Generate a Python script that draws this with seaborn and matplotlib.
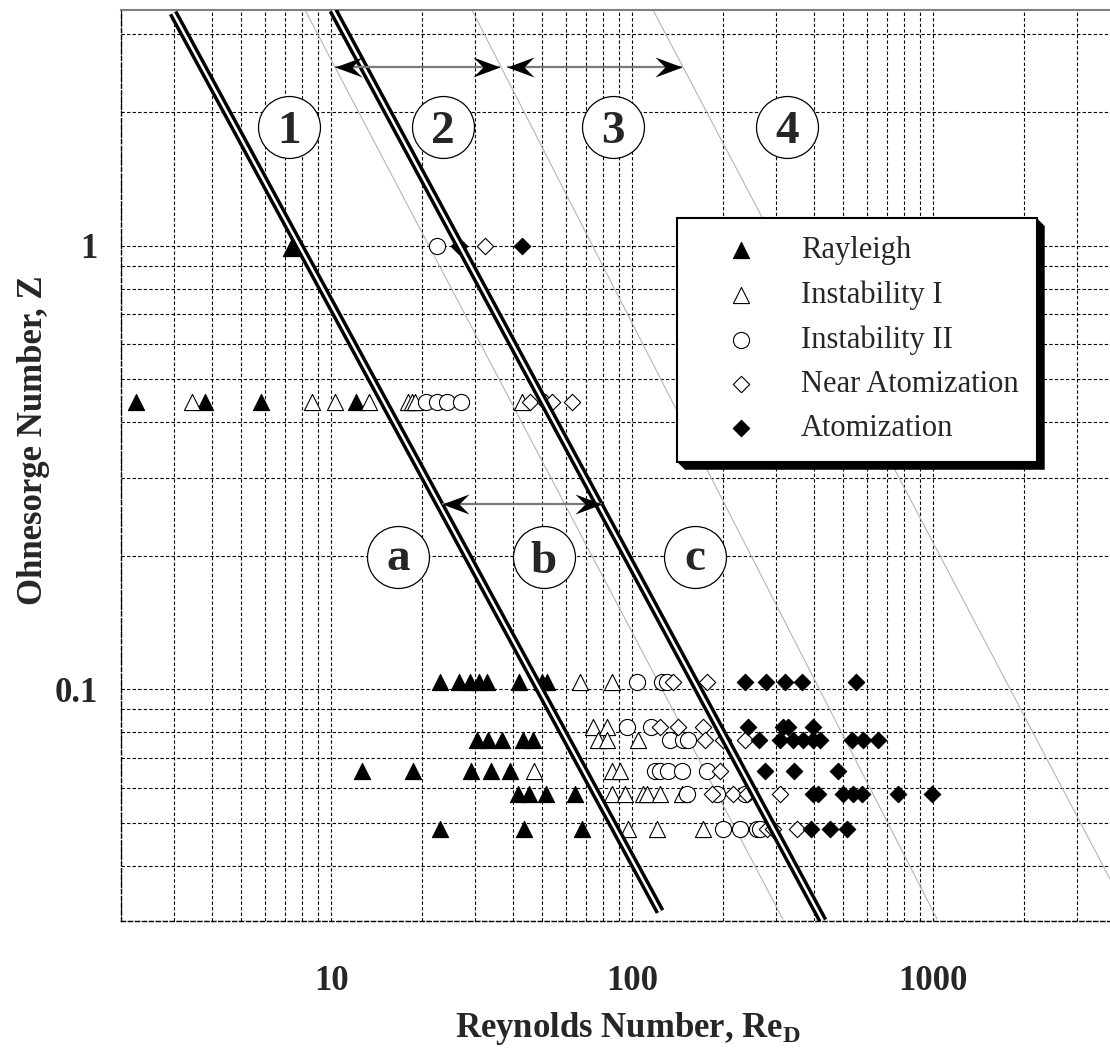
import matplotlib
matplotlib.use("Agg")
import matplotlib.pyplot as plt
import seaborn as sns
import numpy as np
from matplotlib.path import Path
from matplotlib.patches import Polygon
from matplotlib.transforms import IdentityTransform
from matplotlib.ticker import FixedLocator, NullFormatter, LogLocator

# ---------------- data ----------------
rayleigh_re = [7.34, 2.24, 3.80, 5.82, 12.04,
               22.9, 26.5, 28.9, 31.0, 32.8, 42.1, 50.2, 51.9,
               30.4, 33.2, 36.8, 43.4, 46.9,
               12.6, 18.7, 29.0, 33.9, 39.2,
               41.8, 45.3, 51.5, 64.5,
               22.9, 43.6, 68.2]
rayleigh_z = [0.99] + [0.445]*4 + [0.104]*8 + [0.0768]*5 + [0.0655]*5 + [0.058]*4 + [0.0484]*3

inst1_re = [3.45, 8.60, 10.28, 13.37, 18.0, 18.5, 18.96, 43.0,
            67.0, 85.8,
            74.1, 82.5,
            77.0, 82.1, 104.6,
            47.1, 85.8, 90.9,
            85.4, 94.5, 108.7, 111.6, 123.6, 145.8,
            96.9, 120.5, 172.1]
inst1_z = [0.445]*8 + [0.104]*2 + [0.082]*2 + [0.0768]*3 + [0.0655]*3 + [0.058]*6 + [0.0484]*3

inst2_re = [22.4,
            20.7, 22.4, 24.2, 27.0,
            103.4, 125.1, 130.6,
            95.7, 115.1,
            133.4, 147.7, 153.4,
            118.9, 123.6, 131.6, 145.8, 176.5,
            151.5, 190.6, 236.7,
            200.5, 227.9, 258.9, 265.5]
inst2_z = [1.0] + [0.445]*4 + [0.104]*3 + [0.082]*2 + [0.0768]*3 + [0.0655]*5 + [0.058]*3 + [0.0484]*4

near_re = [32.4,
           45.7, 51.2, 54.0, 63.0,
           136.7, 176.5,
           123.6, 142.1, 172.1,
           174.3, 200.5, 236.7,
           195.5,
           183.4, 216.4, 239.8, 309.4,
           279.4, 293.9, 351.5]
near_z = [1.0] + [0.445]*4 + [0.104]*2 + [0.082]*3 + [0.0768]*3 + [0.0655] + [0.058]*4 + [0.0484]*3

atom_re = [26.5, 43.0,
           236.7, 277.4, 321.4, 366.8, 553.0,
           242.7, 317.2, 329.6, 399.0,
           264.1, 309.4, 342.5, 369.7, 399.0, 420.2, 535.6, 585.0, 656.3,
           275.8, 345.2, 480.9,
           399.0, 414.6, 502.1, 542.0, 578.0, 764.6, 987.0,
           393.6, 453.4, 518.3]
atom_z = [1.0]*2 + [0.104]*5 + [0.082]*4 + [0.0768]*9 + [0.0655]*3 + [0.058]*7 + [0.0484]*3

series_names = ["Rayleigh", "Instability I", "Instability II", "Near Atomization", "Atomization"]

# regime boundary lines (double lines) and thin guide lines
bound_re = [[2.98, 123.6], [10.12, 429.7]]
bound_z = [[3.35, 0.0315], [3.40, 0.030]]
guide_re = [[8.17, 316.2], [29.3, 1028.0], [117.1, 3862.0]]
guide_z = [[3.40, 0.0303], [3.40, 0.0303], [3.40, 0.0373]]

# double-headed arrows
arrow_re = [[10.28, 36.3], [38.3, 146.0], [23.3, 79.3]]
arrow_z = [2.53, 2.53, 0.262]

# circled region labels
region_labels = ["1", "2", "3", "4", "a", "b", "c"]
region_re = [7.23, 23.5, 86.2, 326.4, 16.65, 50.8, 161.4]
region_z = [1.854, 1.854, 1.854, 1.854, 0.199, 0.199, 0.199]

x_ticks = [10, 100, 1000]
x_tick_labels = ["10", "100", "1000"]
y_ticks = [0.1, 1]
y_tick_labels = ["0.1", "1"]

# ---------------- style ----------------
sns.set_theme(style="white")
plt.rcParams['font.family'] = ['Liberation Serif', 'DejaVu Serif']
plt.rcParams['mathtext.fontset'] = 'custom'
plt.rcParams['mathtext.rm'] = 'Liberation Serif'
plt.rcParams['mathtext.bf'] = 'Liberation Serif:bold'
plt.rcParams['mathtext.it'] = 'Liberation Serif:italic'

W, H = 1110, 1057
fig = plt.figure(figsize=(W/100, H/100), dpi=100)
fig.patch.set_facecolor('white')
L, R, B, T = 121, 1114.6, 921, 10
ax = fig.add_axes([L/W, 1-B/H, (R-L)/W, (B-T)/H])
ax.set_facecolor('white')
ax.set_xscale('log')
ax.set_yscale('log')
ax.set_xlim(2, 4000)
ax.set_ylim(0.03, 3.4)

# grid
ax.set_axisbelow(True)
ax.grid(True, which='both', color='black', linestyle=(0, (3, 2)), linewidth=0.8)

# ticks
ax.xaxis.set_major_locator(FixedLocator(x_ticks))
ax.yaxis.set_major_locator(FixedLocator(y_ticks))
ax.xaxis.set_minor_locator(LogLocator(base=10, subs=np.arange(2, 10) * 1.0, numticks=30))
ax.yaxis.set_minor_locator(LogLocator(base=10, subs=np.arange(2, 10) * 1.0, numticks=30))
ax.xaxis.set_minor_formatter(NullFormatter())
ax.yaxis.set_minor_formatter(NullFormatter())
ax.set_xticklabels(x_tick_labels, fontsize=25, fontweight='bold')
ax.set_yticklabels(y_tick_labels, fontsize=25, fontweight='bold')
ax.tick_params(axis='both', which='major', direction='in', length=12, width=1, color='black')
ax.tick_params(axis='both', which='minor', direction='in', length=6, width=1, color='black')
ax.tick_params(axis='x', which='major', pad=32)
ax.tick_params(axis='y', which='major', pad=17)

for s in ['left', 'bottom']:
    ax.spines[s].set_linestyle((0, (3, 2)))
    ax.spines[s].set_color('black')
    ax.spines[s].set_linewidth(1.0)
ax.spines['top'].set_color('#808080')
ax.spines['top'].set_linewidth(1.5)
ax.spines['right'].set_color('#808080')

# thin guide lines
for xs, zs in zip(guide_re, guide_z):
    ax.plot(xs, zs, color='#b5b5b5', lw=0.8, zorder=2)

# scatter data
specs = [
    (series_names[0], rayleigh_re, rayleigh_z, '^', 'black', 135),
    (series_names[1], inst1_re, inst1_z, '^', 'white', 135),
    (series_names[2], inst2_re, inst2_z, 'o', 'white', 135),
    (series_names[3], near_re, near_z, 'D', 'white', 70),
    (series_names[4], atom_re, atom_z, 'D', 'black', 70),
]
for name, xs, zs, mk, fc, sz in specs:
    sns.scatterplot(x=xs, y=zs, marker=mk, s=sz, color=fc, edgecolor='black',
                    linewidth=0.8, label=name, ax=ax, zorder=2.5)

# double boundary lines
for xs, zs in zip(bound_re, bound_z):
    ax.plot(xs, zs, color='black', lw=6.8, solid_capstyle='butt', zorder=3)
    ax.plot(xs, zs, color='white', lw=1.8, solid_capstyle='butt', zorder=3.1)

# arrows
hv = [(0, 0), (-27, 10), (-17, 0), (-27, -10), (0, 0)]
codes = [Path.MOVETO, Path.LINETO, Path.LINETO, Path.LINETO, Path.CLOSEPOLY]
head_r = Path(hv, codes)
head_l = Path([(-a, b) for a, b in hv], codes)
for (xa, xb), ya in zip(arrow_re, arrow_z):
    ax.plot([xa, xb], [ya, ya], color='#7a7a7a', lw=1.6, zorder=4, solid_capstyle='butt')
    ax.plot([xb], [ya], marker=head_r, markersize=39, color='black', mew=0, lw=0, zorder=4.5)
    ax.plot([xa], [ya], marker=head_l, markersize=39, color='black', mew=0, lw=0, zorder=4.5)

# circled labels
for lab, x, y in zip(region_labels, region_re, region_z):
    ax.scatter([x], [y], s=1990, marker='o', facecolor='white', edgecolor='black',
               linewidth=0.9, zorder=6)
    dy = -9.5 if lab in ('a', 'c') else -11.5
    ax.annotate(lab, (x, y), xytext=(0, dy), textcoords='offset points',
                ha='center', va='baseline', fontsize=34, fontweight='bold', zorder=7)

# axis labels
ax.set_xlabel(r'Reynolds Number, Re$_{\mathbf{D}}$', fontsize=25, fontweight='bold')
ax.xaxis.set_label_coords((628 - L) / (R - L), -(1010 - B) / (B - T))
ax.set_ylabel('Ohnesorge Number, Z', fontsize=25, fontweight='bold')
ax.yaxis.set_label_coords((50 - L) / (R - L), (B - 440) / (B - T))

# legend
leg = ax.legend(loc='upper left', bbox_to_anchor=(677 / W, 1 - 218 / H),
                bbox_transform=fig.transFigure, borderaxespad=0, frameon=True,
                fancybox=False, shadow=False, prop={'family': 'Liberation Serif', 'size': 22},
                borderpad=0.6, labelspacing=0.5, handlelength=3.0, handletextpad=0.45,
                scatterpoints=1, edgecolor='black', framealpha=1)
leg.get_frame().set_linewidth(1.5)
leg.set_zorder(10)

fig.canvas.draw()
bb = leg.get_frame().get_window_extent()
d = 8
shadow = Polygon([(bb.x0, bb.y0), (bb.x0 + d, bb.y0 - d), (bb.x1 + d, bb.y0 - d),
                  (bb.x1 + d, bb.y1 - d), (bb.x1, bb.y1), (bb.x1, bb.y0)], closed=True,
                 transform=IdentityTransform(), facecolor='black', edgecolor='none',
                 zorder=9.5, clip_on=False)
ax.add_artist(shadow)

fig.savefig('out.png', dpi=100, facecolor='white')
